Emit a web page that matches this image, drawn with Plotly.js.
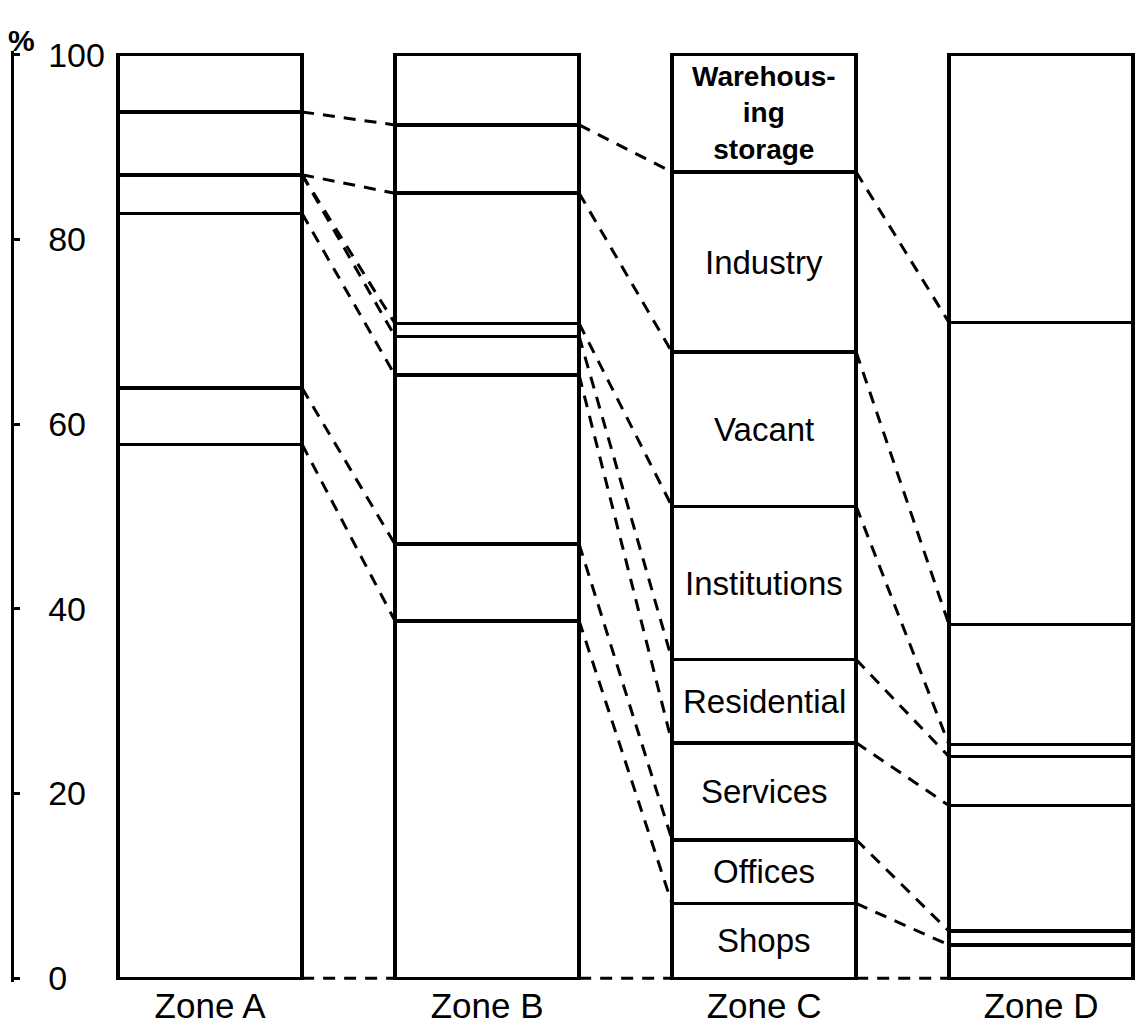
<!DOCTYPE html>
<html>
<head>
<meta charset="utf-8">
<script src="https://cdn.plot.ly/plotly-3.0.1.min.js"></script>
<style>
  body { margin: 0; background: #fff; }
  #chart { width: 1147px; height: 1025px; }
</style>
</head>
<body>
<div id="chart"></div>
<script>
// land use share (%) per zone, bottom to top of each column
var zones = ['Zone A', 'Zone B', 'Zone C', 'Zone D'];
var shops        = [57.8, 38.7,  8.1,  3.6];
var offices      = [ 6.1,  8.3,  6.9,  1.5];
var services     = [18.9, 18.3, 10.5, 13.6];
var residential  = [ 4.2,  4.2,  9.0,  5.3];
var institutions = [ 0.0,  1.4, 16.6,  1.3];
var vacant       = [ 0.0, 14.1, 16.7, 13.0];
var industry     = [ 6.8,  7.4, 19.5, 32.7];
var warehousing  = [ 6.2,  7.6, 12.7, 29.0];
var categories = ['Shops', 'Offices', 'Services', 'Residential', 'Institutions', 'Vacant', 'Industry', 'Warehous-<br>ing<br>storage'];
var yTicks = [0, 20, 40, 60, 80, 100];

var series = [shops, offices, services, residential, institutions, vacant, industry, warehousing];
var pos = zones.map(function(z, i) { return i; });
var barWidth = 0.665;
var font = 'Liberation Sans, Arial, sans-serif';

var traces = [];
for (var s = 0; s < series.length; s++) {
  traces.push({
    type: 'bar',
    x: pos,
    y: series[s],
    width: barWidth,
    marker: {color: 'white', line: {color: 'black', width: 3.5}},
    hoverinfo: 'none',
    showlegend: false
  });
}

// cumulative boundaries, starting with 0 at the base
var cum = pos.map(function(k) {
  var c = [0], t = 0;
  for (var s = 0; s < series.length - 1; s++) { t += series[s][k]; c.push(t); }
  return c;
});

// dashed links between matching boundaries of neighbouring zones
var lx = [], ly = [];
for (var k = 0; k < zones.length - 1; k++) {
  for (var i = 0; i < cum[k].length; i++) {
    lx.push(k + barWidth / 2, k + 1 - barWidth / 2, null);
    ly.push(cum[k][i], cum[k + 1][i], null);
  }
}
traces.push({
  type: 'scatter',
  mode: 'lines',
  x: lx,
  y: ly,
  line: {color: 'black', width: 3, dash: '12px,9px'},
  hoverinfo: 'none',
  showlegend: false
});

// names written inside Zone C
var annotations = [];
var c = 2, base = 0;
for (var s = 0; s < series.length; s++) {
  var h = series[s][c];
  var last = s == series.length - 1;
  annotations.push({
    x: c, y: base + h / 2,
    text: categories[s],
    showarrow: false,
    font: {family: font, size: last ? 28 : 33, color: 'black', weight: last ? 700 : 400}
  });
  base += h;
}
annotations.push({
  xref: 'paper', yref: 'paper', x: 0, y: 1,
  xanchor: 'left', yanchor: 'bottom', xshift: -8, yshift: -8,
  text: '%', showarrow: false,
  font: {family: font, size: 30, color: 'black', weight: 700}
});

var layout = {
  width: 1147,
  height: 1025,
  margin: {l: 14, r: 7, t: 51, b: 43},
  paper_bgcolor: 'white',
  plot_bgcolor: 'white',
  barmode: 'stack',
  bargap: 0,
  xaxis: {
    range: [-0.7076, 3.357],
    tickvals: pos,
    ticktext: zones,
    showline: false,
    showgrid: false,
    zeroline: false,
    ticks: '',
    tickfont: {family: font, size: 35, color: 'black'},
    fixedrange: true
  },
  yaxis: {
    range: [-0.4, 100.4],
    tickvals: yTicks,
    ticks: 'inside',
    ticklen: 6,
    tickwidth: 3,
    tickcolor: 'black',
    ticklabelposition: 'inside',
    ticklabeloverflow: 'allow',
    ticklabelstandoff: 32,
    showline: true,
    linewidth: 3,
    linecolor: 'black',
    showgrid: false,
    zeroline: false,
    tickfont: {family: font, size: 34, color: 'black'},
    fixedrange: true
  },
  annotations: annotations
};

Plotly.newPlot('chart', traces, layout, {displayModeBar: false, staticPlot: true});
</script>
</body>
</html>
